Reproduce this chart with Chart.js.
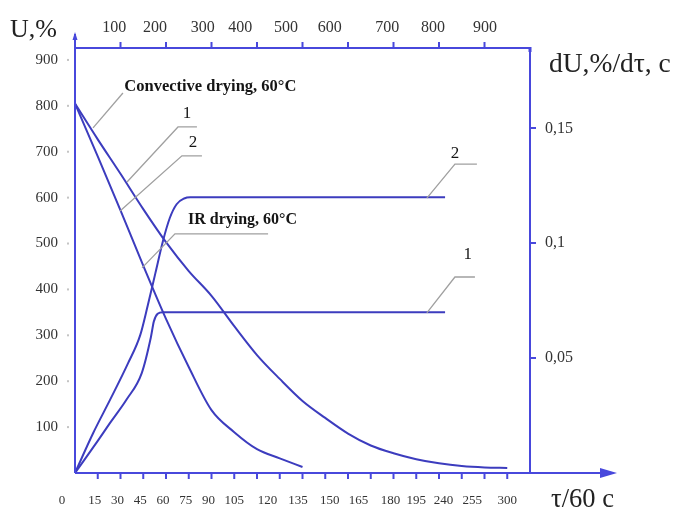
<!DOCTYPE html>
<html>
<head>
<meta charset="utf-8">
<title>Drying curves</title>
<script src="https://cdn.jsdelivr.net/npm/chart.js@4.4.1/dist/chart.umd.min.js"></script>
<style>
    html, body { margin: 0; padding: 0; background: #fff; }
    canvas { display: block; }
</style>
</head>
<body>
<canvas id="chart-1" width="680" height="511"></canvas>
<script>
// moisture content U, % (left axis) against time in minutes
var convT = [0, 15, 30, 45, 60, 75, 90, 105, 120, 135, 150, 165, 180, 195, 210, 225, 240, 255, 270, 285];
var convU = [805, 727, 652, 575, 503, 440, 386, 320, 257, 205, 157, 120, 86, 60, 43, 30, 21, 15, 12, 11];
var irT = [0, 15, 30, 45, 60, 75, 90, 105, 120, 135, 150];
var irU = [805, 690, 572, 452, 336, 231, 137, 89, 52, 32, 13];

// drying rate dU/dtau (right axis)
var convRateT = [0, 15, 23, 34, 44, 50, 52, 54.5, 58, 244];
var convRate = [0, 0.014, 0.0217, 0.032, 0.0435, 0.059, 0.066, 0.0693, 0.07, 0.07];
var irRateT = [0, 12, 23, 35, 43, 48, 53, 58, 62.5, 67, 72, 76, 244];
var irRate = [0, 0.0174, 0.0317, 0.0478, 0.060, 0.073, 0.087, 0.101, 0.111, 0.117, 0.1195, 0.12, 0.12];

// tick labels as printed, and where they sit on each axis
var bottomLabels = ['0', '15', '30', '45', '60', '75', '90', '105', '120', '135', '150', '165', '180', '195', '240', '255', '300'];
var bottomLabelAt = [-8.5, 13, 28, 43, 58, 73, 88, 105, 127, 147, 168, 187, 208, 225, 243, 262, 285];
var bottomTicks = [15, 30, 45, 60, 75, 90, 105, 120, 135, 150, 165, 180, 195, 210, 225, 240, 255, 270, 285];
var topLabels = ['100', '200', '300', '400', '500', '600', '700', '800', '900'];
var topLabelAt = [86, 176, 281, 363, 464, 560, 686, 787, 901];
var topTicks = [100, 200, 300, 400, 500, 600, 700, 800, 900];
var leftTicks = [100, 200, 300, 400, 500, 600, 700, 800, 900];
var rightTicks = [0.05, 0.1, 0.15];
var rightLabels = ['0,05', '0,1', '0,15'];

var axisColor = '#4848dc';
var curveColor = '#3c3cbe';
var serif = '"Liberation Serif", "Times New Roman", serif';

Chart.defaults.font.family = serif;

function xy(xs, ys) {
    return xs.map(function (v, i) { return { x: v, y: ys[i] }; });
}

function line(label, xs, ys, axis) {
    return {
        label: label,
        data: xy(xs, ys),
        yAxisID: axis,
        borderColor: curveColor,
        borderWidth: 2,
        pointRadius: 0,
        fill: false,
        cubicInterpolationMode: 'monotone'
    };
}

// axis lines with arrows, tick marks, leader lines and captions
var frame = {
    id: 'frame',
    afterDraw: function (chart) {
        var ctx = chart.ctx, a = chart.chartArea;
        var sx = chart.scales.x, sx2 = chart.scales.x2, sy = chart.scales.y;
        function px(p) { return [sx.getPixelForValue(p[0]), sy.getPixelForValue(p[1])]; }

        ctx.save();
        ctx.strokeStyle = axisColor;
        ctx.fillStyle = axisColor;
        ctx.lineWidth = 2;
        ctx.beginPath();
        ctx.moveTo(a.left, a.bottom); ctx.lineTo(a.left, a.top - 14);
        ctx.moveTo(a.left, a.top); ctx.lineTo(a.right, a.top); ctx.lineTo(a.right, a.bottom);
        ctx.moveTo(a.left, a.bottom); ctx.lineTo(a.right + 72, a.bottom);
        bottomTicks.forEach(function (v) {
            var p = sx.getPixelForValue(v);
            ctx.moveTo(p, a.bottom); ctx.lineTo(p, a.bottom + 6);
        });
        topTicks.forEach(function (v) {
            var p = sx2.getPixelForValue(v);
            ctx.moveTo(p, a.top); ctx.lineTo(p, a.top - 6);
        });
        ctx.stroke();

        ctx.beginPath();
        ctx.moveTo(a.right + 87, a.bottom);
        ctx.lineTo(a.right + 70, a.bottom - 5);
        ctx.lineTo(a.right + 70, a.bottom + 5);
        ctx.closePath();
        ctx.fill();
        ctx.beginPath();
        ctx.moveTo(a.left, a.top - 16);
        ctx.lineTo(a.left - 2.5, a.top - 8);
        ctx.lineTo(a.left + 2.5, a.top - 8);
        ctx.closePath();
        ctx.fill();
        ctx.fillRect(a.right - 1.5, a.top - 1, 3, 5);

        ctx.fillStyle = '#c4c4c4';
        leftTicks.forEach(function (v) {
            ctx.fillRect(a.left - 8, sy.getPixelForValue(v) - 1, 2, 2);
        });

        // leader lines, in (minutes, U) units
        var leaders = [
            [[31.6, 828], [11.9, 752]],
            [[80.4, 754], [67.9, 754], [34.3, 634]],
            [[83.7, 691], [70.5, 691], [29.7, 571]],
            [[127.3, 521], [65.9, 521], [44.2, 447]],
            [[265, 673], [250.5, 673], [232, 599]],
            [[263.7, 427], [250.5, 427], [232, 349]]
        ];
        ctx.strokeStyle = '#a0a0a0';
        ctx.lineWidth = 1.3;
        leaders.forEach(function (path) {
            ctx.beginPath();
            path.forEach(function (p, i) {
                var q = px(p);
                if (i == 0) ctx.moveTo(q[0], q[1]); else ctx.lineTo(q[0], q[1]);
            });
            ctx.stroke();
        });

        ctx.fillStyle = '#151515';
        ctx.textBaseline = 'middle';
        ctx.textAlign = 'left';
        ctx.font = 'bold 16.5px ' + serif;
        var c1 = px([32.5, 841]);
        ctx.fillText('Convective drying, 60°C', c1[0], c1[1]);
        ctx.font = 'bold 16px ' + serif;
        var c2 = px([74.5, 551]);
        ctx.fillText('IR drying, 60°C', c2[0], c2[1]);

        ctx.font = '17px ' + serif;
        ctx.textAlign = 'center';
        [['1', 73.8, 784], ['2', 77.8, 721], ['2', 250.5, 697], ['1', 259, 475]].forEach(function (t) {
            var q = px([t[1], t[2]]);
            ctx.fillText(t[0], q[0], q[1]);
        });

        ctx.textAlign = 'left';
        ctx.textBaseline = 'alphabetic';
        ctx.fillStyle = '#222';
        ctx.font = '26px ' + serif;
        ctx.fillText('U,%', 10, 37);
        ctx.font = '27.5px ' + serif;
        ctx.fillText('dU,%/dτ, c', 549, 72);
        ctx.font = '26.5px ' + serif;
        ctx.fillText('τ/60 c', 551, 507);
        ctx.restore();
    }
};

new Chart(document.getElementById('chart-1'), {
    type: 'line',
    data: {
        datasets: [
            line('Convective drying, U', convT, convU, 'y'),
            line('IR drying, U', irT, irU, 'y'),
            line('Convective drying, dU/dt', convRateT, convRate, 'y2'),
            line('IR drying, dU/dt', irRateT, irRate, 'y2')
        ]
    },
    options: {
        responsive: false,
        animation: false,
        layout: { padding: 0 },
        plugins: {
            legend: { display: false },
            tooltip: { enabled: false }
        },
        scales: {
            x: {
                type: 'linear', position: 'bottom', min: 0, max: 300,
                afterBuildTicks: function (s) { s.ticks = bottomLabelAt.map(function (v) { return { value: v }; }); },
                afterFit: function (s) { s.height = 38; },
                grid: { display: false, drawTicks: false },
                border: { display: false },
                ticks: {
                    autoSkip: false, maxRotation: 0, padding: 20, color: '#333',
                    font: { size: 13 },
                    callback: function (v, i) { return bottomLabels[i]; }
                }
            },
            x2: {
                type: 'linear', position: 'top', min: 0, max: 1000,
                afterBuildTicks: function (s) { s.ticks = topLabelAt.map(function (v) { return { value: v }; }); },
                afterFit: function (s) { s.height = 48; },
                grid: { display: false, drawTicks: false },
                border: { display: false },
                ticks: {
                    autoSkip: false, maxRotation: 0, padding: 11, color: '#333',
                    font: { size: 16 },
                    callback: function (v, i) { return topLabels[i]; }
                }
            },
            y: {
                type: 'linear', position: 'left', min: 0, max: 926,
                afterBuildTicks: function (s) { s.ticks = leftTicks.map(function (v) { return { value: v }; }); },
                afterFit: function (s) { s.width = 75; },
                grid: { display: false, drawTicks: false },
                border: { display: false },
                ticks: { padding: 17, color: '#333', font: { size: 15 } }
            },
            y2: {
                type: 'linear', position: 'right', min: 0, max: 0.185,
                afterBuildTicks: function (s) { s.ticks = rightTicks.map(function (v) { return { value: v }; }); },
                afterFit: function (s) { s.width = 150; },
                grid: { drawOnChartArea: false, tickLength: 6, color: axisColor, lineWidth: 2 },
                border: { display: false },
                ticks: {
                    padding: 9, color: '#333', font: { size: 16 },
                    callback: function (v, i) { return rightLabels[i]; }
                }
            }
        }
    },
    plugins: [frame]
});
</script>
</body>
</html>
